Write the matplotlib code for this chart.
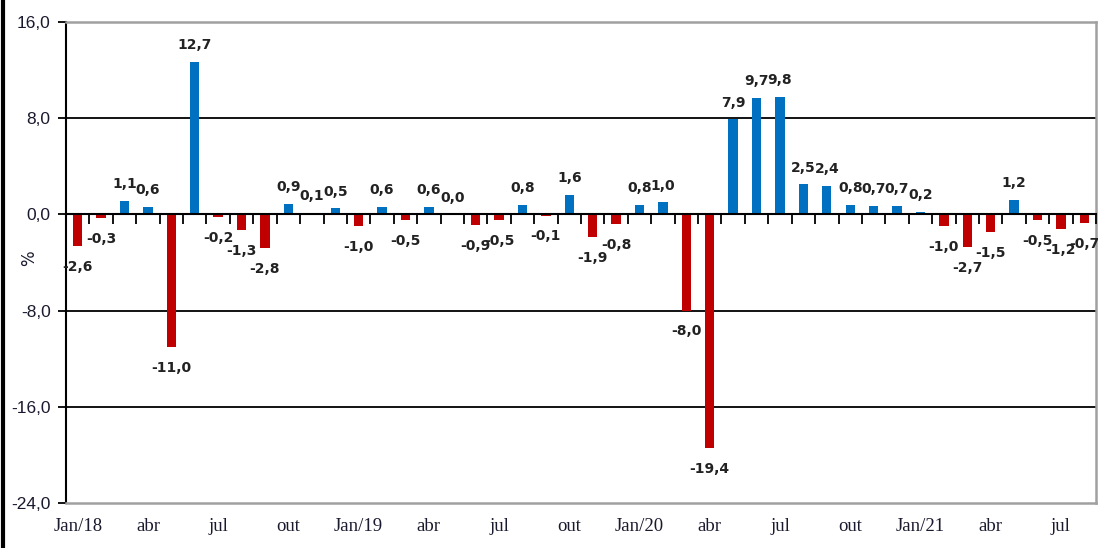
# Imports
# ===================================
import pandas as pd
import numpy as np
import matplotlib
matplotlib.use("Agg")
import matplotlib.pyplot as plt

# Data
# ===================================
months = pd.date_range("2018-01", "2021-08", freq="MS").strftime("%Y-%m").tolist()
values = [-2.6, -0.3, 1.1, 0.6, -11.0, 12.7, -0.2, -1.3, -2.8, 0.9, 0.1, 0.5,
          -1.0, 0.6, -0.5, 0.6, 0.0, -0.9, -0.5, 0.8, -0.1, 1.6, -1.9, -0.8,
          0.8, 1.0, -8.0, -19.4, 7.9, 9.7, 9.8, 2.5, 2.4, 0.8, 0.7, 0.7,
          0.2, -1.0, -2.7, -1.5, 1.2, -0.5, -1.2, -0.7]
tick_labels = ["Jan/18", "abr", "jul", "out", "Jan/19", "abr", "jul", "out",
               "Jan/20", "abr", "jul", "out", "Jan/21", "abr", "jul"]
y_ticks = [16, 8, 0, -8, -16, -24]

BLUE = "#0070C0"
RED = "#C00000"
TEXT = "#1a1a2e"
YMIN, YMAX = -24, 16

# Graph
# ===================================
fig = plt.figure(figsize=(10.98, 5.48), dpi=100)
ax = fig.add_axes([66 / 1098, 1 - 503 / 548, 1030 / 1098, 481 / 548])

x = np.arange(len(months))
colors = [BLUE if v >= 0 else RED for v in values]
ax.bar(x, values, width=0.4, color=colors, zorder=3)

# data labels
for xi, v in zip(x, values):
    label = f"{v:.1f}".replace(".", ",")
    if v >= 0:
        ax.annotate(label, (xi, v), xytext=(0, 7), textcoords="offset points",
                    ha="center", va="bottom", fontsize=10, fontweight="bold",
                    color="#222222", zorder=4)
    else:
        ax.annotate(label, (xi, v), xytext=(0, -10), textcoords="offset points",
                    ha="center", va="top", fontsize=10, fontweight="bold",
                    color="#222222", zorder=4)

ax.set_xlim(-0.5, len(months) - 0.5)
ax.set_ylim(YMIN, YMAX)

# y axis
ax.set_yticks(y_ticks)
ax.set_yticklabels([f"{t:.1f}".replace(".", ",") for t in y_ticks],
                   fontfamily="Liberation Sans", fontsize=12.5, color=TEXT)
ax.tick_params(axis="y", direction="out", length=6, width=1.3, pad=5, color="black")
ax.set_ylabel("%", fontsize=12, color=TEXT)
ax.yaxis.set_label_coords(-0.027, 0.51)

# x labels at the bottom, every quarter
ax.set_xticks(x[::3])
ax.set_xticklabels(tick_labels, fontfamily="Liberation Serif", fontsize=13.5, color=TEXT)
ax.tick_params(axis="x", length=0, pad=11)

# grid lines
for t in [8, -8, -16]:
    ax.axhline(t, color="black", lw=1.3, zorder=1)

ax.spines["left"].set_color("black")
ax.spines["left"].set_linewidth(1.5)
for side in ["top", "right", "bottom"]:
    ax.spines[side].set_color("#A0A0A0")
    ax.spines[side].set_linewidth(1.8)

# zero line with category tick marks
zero_pos = (0 - YMIN) / (YMAX - YMIN)
sec = ax.secondary_xaxis(zero_pos)
sec.set_alignment("bottom")
sec.set_xticks(np.arange(-0.5, len(months), 1.0))
sec.set_xticklabels([])
sec.tick_params(axis="x", direction="out", length=7, width=1.3, color="black")
sec.spines["bottom"].set_color("black")
sec.spines["bottom"].set_linewidth(1.5)
sec.set_zorder(5)

# outer frame line on the left
fig.add_artist(plt.Line2D([0.003, 0.003], [0, 1], transform=fig.transFigure,
                          color="black", lw=3))

plt.savefig("out.png", dpi=100)
